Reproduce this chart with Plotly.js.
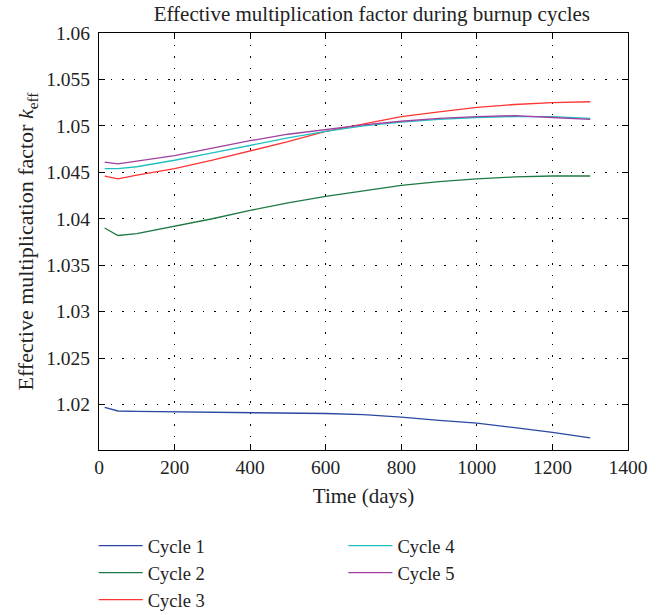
<!DOCTYPE html>
<html>
<head>
<meta charset="utf-8">
<script src="https://cdn.plot.ly/plotly-3.0.1.min.js"></script>
<style>html,body{margin:0;padding:0;background:#fff;}#chart{width:664px;height:615px;}</style>
</head>
<body>
<div id="chart"></div>
<script>
const days = [15, 50, 100, 200, 300, 400, 500, 600, 700, 800, 900, 1000, 1100, 1200, 1300];
const cycle1 = [1.0197, 1.0193, 1.01925, 1.0192, 1.01918, 1.01915, 1.0191, 1.01903, 1.0189, 1.01865, 1.0183, 1.0180, 1.0175, 1.0170, 1.0164];
const cycle2 = [1.0390, 1.0382, 1.0384, 1.0392, 1.0400, 1.0409, 1.0417, 1.0424, 1.0430, 1.0436, 1.0440, 1.0443, 1.0445, 1.0446, 1.0446];
const cycle3 = [1.0446, 1.0443, 1.0447, 1.0454, 1.0463, 1.0473, 1.0483, 1.0494, 1.0502, 1.0510, 1.0515, 1.0520, 1.0523, 1.0525, 1.0526];
const cycle4 = [1.0454, 1.0454, 1.0456, 1.0463, 1.0471, 1.0479, 1.0487, 1.0494, 1.0500, 1.0504, 1.0507, 1.0509, 1.0510, 1.0510, 1.0508];
const cycle5 = [1.0461, 1.0459, 1.0462, 1.0468, 1.0476, 1.0484, 1.0491, 1.0496, 1.0501, 1.0505, 1.0508, 1.0510, 1.0511, 1.0509, 1.0507];
const names = ['Cycle 1', 'Cycle 2', 'Cycle 3', 'Cycle 4', 'Cycle 5'];
const colors = ['#2a48a0', '#1e7a44', '#ff3535', '#20c0c0', '#a040a0'];
const series = [cycle1, cycle2, cycle3, cycle4, cycle5];
const legends = ['legend', 'legend', 'legend', 'legend2', 'legend2'];

const traces = series.map((s, i) => ({
  x: days, y: s, type: 'scatter', mode: 'lines', name: names[i],
  line: {color: colors[i], width: 1.3},
  legend: legends[i]
}));

const F = 'Liberation Serif';
function axisCommon() {
  return {
    showline: true, linecolor: '#000', linewidth: 1, mirror: 'ticks',
    ticks: 'inside', ticklen: 6, tickcolor: '#000', tickwidth: 1,
    showgrid: true, gridcolor: '#000', gridwidth: 1, griddash: '1.5px,10px',
    zeroline: false, automargin: false,
    tickfont: {family: F, size: 19.5, color: '#222'}
  };
}
const layout = {
  width: 664, height: 615,
  font: {family: F, size: 19, color: '#222'},
  margin: {l: 99, r: 36, t: 33, b: 165},
  paper_bgcolor: '#fff', plot_bgcolor: '#fff',
  title: {text: 'Effective multiplication factor during burnup cycles', font: {family: F, size: 21, color: '#222'}, x: 0.56, xanchor: 'center', y: 0.977, yanchor: 'middle'},
  xaxis: Object.assign(axisCommon(), {range: [0, 1400], dtick: 200, tick0: 0,
    title: {text: 'Time (days)', font: {family: F, size: 21, color: '#222'}, standoff: 10}}),
  yaxis: Object.assign(axisCommon(), {range: [1.0151, 1.06], dtick: 0.005, tick0: 1.02, ticklabelstandoff: 4,
    title: {text: 'Effective multiplication factor <i>k</i><sub>eff</sub>', font: {family: F, size: 22, color: '#222'}, standoff: 6}}),
  showlegend: true,
  legend: {x: -0.01, xanchor: 'left', yref: 'container', y: 0.143, yanchor: 'top', orientation: 'v', itemwidth: 44,
    font: {family: F, size: 18.5, color: '#222'}, tracegroupgap: 0, bgcolor: 'rgba(0,0,0,0)'},
  legend2: {x: 0.462, xanchor: 'left', yref: 'container', y: 0.143, yanchor: 'top', orientation: 'v', itemwidth: 44,
    font: {family: F, size: 18.5, color: '#222'}, tracegroupgap: 0, bgcolor: 'rgba(0,0,0,0)'}
};
Plotly.newPlot('chart', traces, layout, {displayModeBar: false, staticPlot: true});
</script>
</body>
</html>
